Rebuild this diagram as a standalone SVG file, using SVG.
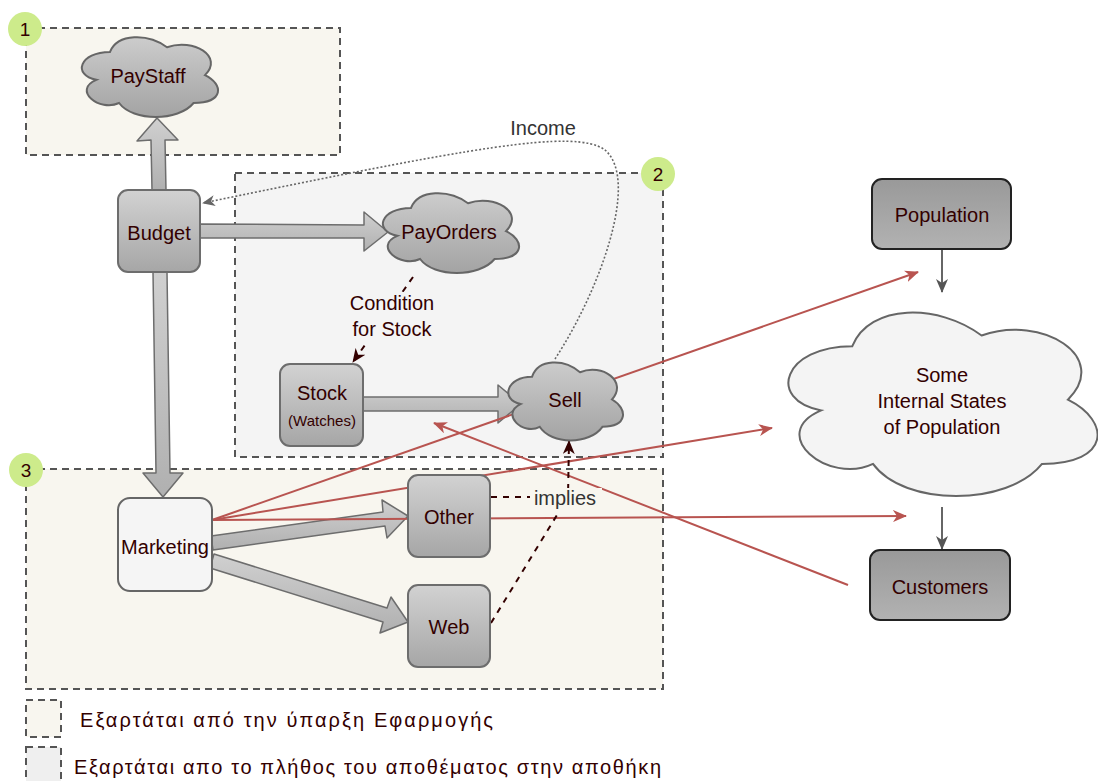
<svg xmlns="http://www.w3.org/2000/svg" width="1098" height="781" viewBox="0 0 1098 781">
<style>
.grp{stroke:#555;stroke-width:2;stroke-dasharray:7 5}
.beige{fill:#f8f6ef}
.gray{fill:#f4f4f4}
.badge{fill:#cdeb8b}
.t{font-family:"Liberation Sans",Arial,sans-serif;font-size:20px;fill:#330000;text-anchor:middle}
.tg{font-family:"Liberation Sans",Arial,sans-serif;font-size:20px;fill:#333;text-anchor:middle}
.leg{font-family:"Liberation Sans","DejaVu Sans",Arial,sans-serif;font-size:20px;fill:#330000}
.box{fill:url(#gNode);stroke:#6d6d6d;stroke-width:2}
.dark{fill:url(#gDark);stroke:#222;stroke-width:2}
.cl{fill:url(#gCloud);stroke:#666;stroke-width:2}
.fat{fill:url(#gFat);stroke:#6d6d6d;stroke-width:1.5;stroke-linejoin:round}
.red{fill:none;stroke:#b85450;stroke-width:2;marker-end:url(#mRed)}
.gl{fill:none;stroke:#666;stroke-width:2;marker-end:url(#mGray)}
.dd{fill:none;stroke:#330000;stroke-width:2;stroke-dasharray:6 6}
</style>
<defs>
<linearGradient id="gNode" x1="0" y1="0" x2="0" y2="1"><stop offset="0" stop-color="#d2d2d2"/><stop offset="1" stop-color="#a6a6a6"/></linearGradient>
<linearGradient id="gDark" x1="0" y1="0" x2="0" y2="1"><stop offset="0" stop-color="#999"/><stop offset="1" stop-color="#b2b2b2"/></linearGradient>
<linearGradient id="gCloud" x1="0" y1="0" x2="0" y2="1"><stop offset="0" stop-color="#cccccc"/><stop offset="1" stop-color="#a3a3a3"/></linearGradient>
<linearGradient id="gFat" x1="0" y1="0" x2="0" y2="1"><stop offset="0" stop-color="#d0d0d0"/><stop offset="1" stop-color="#b0b0b0"/></linearGradient>
<marker id="mRed" viewBox="0 0 14 12" refX="13" refY="6" markerWidth="14" markerHeight="12" markerUnits="userSpaceOnUse" orient="auto"><path d="M0,0 L14,6 L0,12 L4,6 Z" fill="#b85450"/></marker>
<marker id="mGray" viewBox="0 0 14 12" refX="13" refY="6" markerWidth="14" markerHeight="12" markerUnits="userSpaceOnUse" orient="auto"><path d="M0,0 L14,6 L0,12 L4,6 Z" fill="#555"/></marker>
<marker id="mDark" viewBox="0 0 14 12" refX="13" refY="6" markerWidth="14" markerHeight="12" markerUnits="userSpaceOnUse" orient="auto"><path d="M0,0 L14,6 L0,12 L4,6 Z" fill="#330000"/></marker>
<marker id="mInc" viewBox="0 0 14 12" refX="13" refY="6" markerWidth="13" markerHeight="11" markerUnits="userSpaceOnUse" orient="auto"><path d="M0,0 L14,6 L0,12 L4,6 Z" fill="#666"/></marker>
</defs>
<rect width="1098" height="781" fill="#fff"/>

<g id="group1"><rect class="grp beige" x="26" y="28" width="314" height="127"/></g>
<g id="group2"><rect class="grp gray" x="235" y="173" width="428" height="284"/></g>
<g id="group3"><rect class="grp beige" x="26" y="469" width="637" height="220"/></g>

<g id="connectors">
<polygon class="fat" points="166,190 165,140 178,140 157,118 137,141 151,140 152,190"/>
<polygon class="fat" points="200,224 364,225 364,212 388,232 364,251 364,238 200,238"/>
<polygon class="fat" points="363,397 498,397 498,385 521,404 498,423 498,411 363,411"/>
<polygon class="fat" points="153,272 156,473 143,473 163,497 183,473 170,473 167,272"/>
<polygon class="fat" points="213,550 385,526 387,538 408,516 382,500 383,512 211,536"/>
<polygon class="fat" points="210,568 383,622 380,633 408,622 391,597 387,608 214,554"/>
<path class="red" d="M212,520 L918,272"/>
<path class="red" d="M212,520 L772,428"/>
<path class="red" d="M212,520 L906,516"/>
<path class="red" d="M848,585 L434,423"/>
<path class="gl" d="M942,249 L942,292"/>
<path class="gl" d="M942,507 L942,549"/>
<path d="M555,359 C600,290 640,180 605,150 C575,128 470,148 203,203" fill="none" stroke="#666" stroke-width="1.6" stroke-dasharray="2 2" marker-end="url(#mInc)"/>
<path class="dd" d="M413,277 L353,362" marker-end="url(#mDark)"/>
<path class="dd" d="M491,497 L568,497 L569,441" marker-end="url(#mDark)"/>
<path class="dd" d="M491,623 L568,497"/>
<rect x="348" y="292" width="88" height="50" fill="#f4f4f4"/>
<text class="t" x="392" y="310">Condition</text>
<text class="t" x="392" y="336">for Stock</text>
<rect x="530" y="488" width="72" height="24" fill="#f8f6ef"/>
<text class="tg" x="565" y="505">implies</text>
<text class="tg" x="543" y="135">Income</text>
</g>

<g id="paystaff"><path class="cl" d="M110,51.9 C79.6,51.9 72,75.1 96.3,79.8 C72,90 99.4,112.3 119.1,103 C132.8,121.6 178.4,121.6 193.6,103 C224,103 224,84.4 205,75.1 C224,56.5 193.6,37.9 167,47.2 C148,33.3 117.6,33.3 110,51.9 Z"/><text class="t" x="148" y="83">PayStaff</text></g>
<g id="budget"><rect class="box" x="118" y="190" width="82" height="82" rx="10"/><text class="t" x="159" y="240">Budget</text></g>
<g id="payorders"><path class="cl" d="M411,207.9 C380.6,207.9 373,231.1 397.3,235.8 C373,246 400.4,268.3 420.1,259 C433.8,277.6 479.4,277.6 494.6,259 C525,259 525,240.4 506,231.1 C525,212.5 494.6,193.9 468,203.2 C449,189.3 418.6,189.3 411,207.9 Z"/><text class="t" x="449" y="239">PayOrders</text></g>
<g id="stock"><rect class="box" x="280" y="364" width="83" height="82" rx="10"/><text class="t" x="322" y="400">Stock</text><text class="t" x="322" y="426" style="font-size:15px">(Watches)</text></g>
<g id="sell"><path class="cl" d="M532,376.8 C506.4,376.8 500,399.5 520.5,404.1 C500,414.1 523,435.9 539.7,426.8 C551.2,445 589.6,445 602.4,426.8 C628,426.8 628,408.6 612,399.5 C628,381.3 602.4,363.1 580,372.2 C564,358.6 538.4,358.6 532,376.8 Z"/><text class="t" x="565" y="407">Sell</text></g>
<g id="marketing"><rect x="118" y="498" width="94" height="93" rx="12" fill="#f5f5f5" stroke="#666" stroke-width="2"/><text class="t" x="165" y="554">Marketing</text></g>
<g id="other"><rect class="box" x="408" y="475" width="82" height="82" rx="10"/><text class="t" x="449" y="524">Other</text></g>
<g id="web"><rect class="box" x="408" y="585" width="82" height="82" rx="10"/><text class="t" x="449" y="634">Web</text></g>
<g id="population"><rect class="dark" x="872" y="179" width="139" height="70" rx="10"/><text class="t" x="942" y="222">Population</text></g>
<g id="states"><path d="M852.3,346.2 C783.3,346.2 766,399.7 821.2,410.4 C766,433.9 828.1,485.3 873,463.9 C904,506.7 1007.5,506.7 1042,463.9 C1111,463.9 1111,421.1 1067.9,399.7 C1111,356.9 1042,314.1 981.6,335.5 C938.5,303.4 869.5,303.4 852.3,346.2 Z" fill="#f4f4f4" stroke="#666" stroke-width="2"/><text class="t" x="942" y="382">Some</text><text class="t" x="942" y="408">Internal States</text><text class="t" x="942" y="434">of Population</text></g>
<g id="customers"><rect class="dark" x="870" y="550" width="140" height="70" rx="10"/><text class="t" x="940" y="594">Customers</text></g>

<g id="badges">
<circle class="badge" cx="25" cy="29" r="17"/><text class="t" x="25" y="36" style="font-size:19px">1</text>
<circle class="badge" cx="658" cy="174" r="17"/><text class="t" x="658" y="181" style="font-size:19px">2</text>
<circle class="badge" cx="26" cy="470" r="17"/><text class="t" x="26" y="477" style="font-size:19px">3</text>
</g>

<g id="legend">
<rect class="grp beige" x="26" y="700" width="35" height="37"/>
<text class="leg" x="80" y="727" textLength="413" lengthAdjust="spacing">Εξαρτάται από την ύπαρξη Εφαρμογής</text>
<rect class="grp" x="26" y="747" width="35" height="40" fill="#efefef"/>
<text class="leg" x="74" y="774" textLength="587" lengthAdjust="spacing">Εξαρτάται απο το πλήθος του αποθέματος στην αποθήκη</text>
</g>
</svg>
